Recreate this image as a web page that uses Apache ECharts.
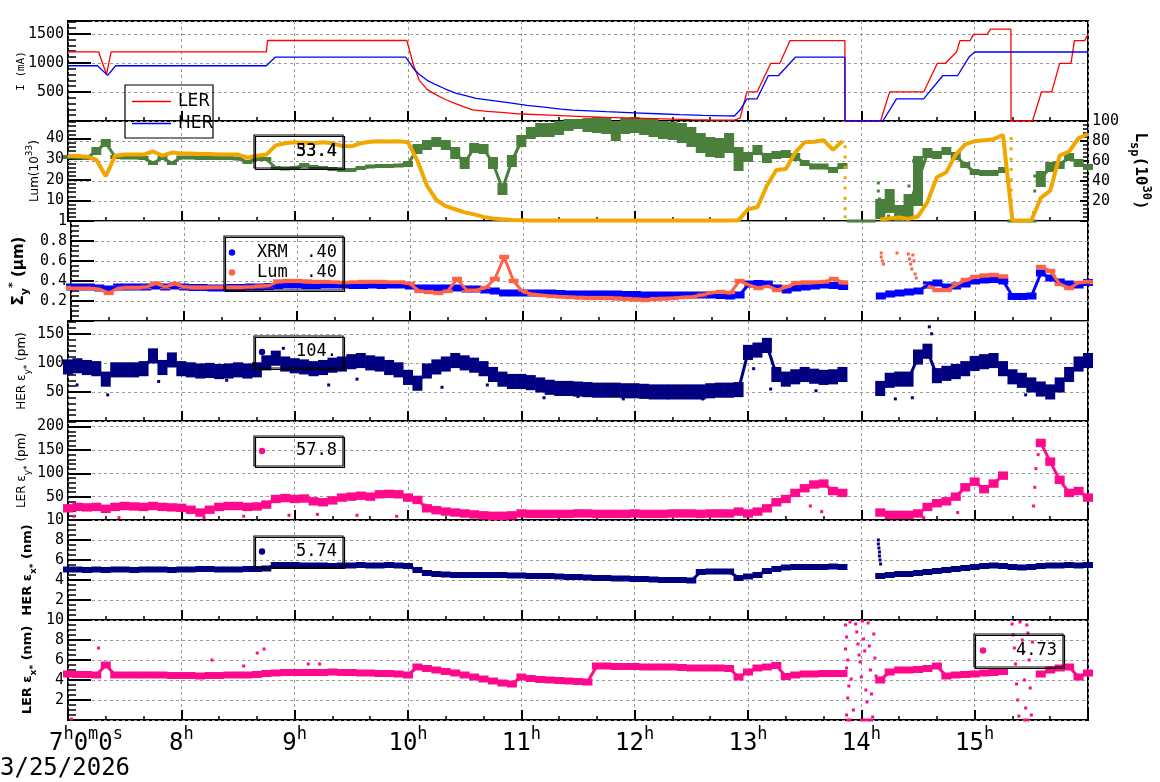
<!DOCTYPE html>
<html><head><meta charset="utf-8">
<script src="https://cdn.jsdelivr.net/npm/echarts@6/dist/echarts.min.js"></script>
<style>html,body{margin:0;padding:0;background:#fff}#c{width:1160px;height:782px}</style>
</head><body><div id="c"></div>
<script>
// ---------- time base: samples every 5 minutes from 07:00 to 16:00 ----------
const T0 = 7, STEP = 5 / 60;
const hourLabels = ['7', '8', '9', '10', '11', '12', '13', '14', '15'];
const dateLabel = '3/25/2026';

// ---------- panel 1: beam currents (mA), [hour, mA] break points ----------
const lerCurrent = [[7.0,1190],[7.27,1190],[7.34,800],[7.38,1190],[8.75,1190],[8.76,1385],[9.99,1385],[10.05,950],[10.1,700],[10.17,540],[10.25,450],[10.33,370],[10.42,300],[10.5,240],[10.57,190],[10.7,165],[10.85,145],[11.0,120],[11.25,100],[11.5,80],[11.75,62],[12.0,48],[12.25,35],[12.5,22],[12.65,17],[12.88,15],[12.93,50],[12.99,500],[13.08,500],[13.2,990],[13.28,990],[13.37,1382],[13.855,1382],[13.856,0],[14.17,0],[14.25,500],[14.55,500],[14.67,990],[14.74,990],[14.84,1187],[14.87,1382],[14.96,1382],[14.99,1490],[15.11,1490],[15.14,1580],[15.32,1580],[15.321,0],[15.51,0],[15.59,500],[15.68,500],[15.75,990],[15.85,990],[15.88,1382],[15.97,1382],[16.0,1490]];
const herCurrent = [[7.0,950],[7.26,950],[7.35,785],[7.42,950],[8.75,950],[8.83,1100],[9.98,1100],[10.05,900],[10.1,800],[10.17,700],[10.25,620],[10.33,550],[10.42,480],[10.5,440],[10.6,390],[10.75,350],[10.9,310],[11.05,270],[11.2,240],[11.35,205],[11.45,188],[11.6,175],[11.75,160],[12.0,140],[12.2,125],[12.4,110],[12.6,98],[12.8,88],[12.88,86],[12.93,188],[12.99,382],[13.08,382],[13.18,782],[13.27,782],[13.42,1100],[13.855,1100],[13.856,0],[14.19,0],[14.31,382],[14.55,382],[14.72,782],[14.85,782],[14.95,1100],[15.0,1187],[16.0,1187]];

// ---------- panel 2: luminosity (1e33, left) and specific luminosity (1e30, right) ----------
const lum = [31.7,31.5,31.2,29.7,21.7,31.7,32.2,32.2,32.2,33.7,31.7,33.2,
32.7,32.7,32.5,32.5,32.2,32.2,32.2,30.7,31.7,32.2,36.7,37.7,
38.2,38.0,37.7,38.2,37.7,36.4,36.2,37.7,38.4,38.7,38.5,38.7,
38.2,29.2,17.2,10.2,7.2,5.7,4.2,3.2,2.0,1.2,0.8,0.5,
0.4,0.3,0.3,0.3,0.3,0.3,0.3,0.3,0.3,0.3,0.3,0.3,
0.3,0.3,0.3,0.3,0.3,0.3,0.3,0.3,0.3,0.3,0.3,0.4,
5.7,6.7,17.2,24.7,25.2,33.2,38.2,38.4,39.2,34.5,38.8,null,
null,null,0.7,1.2,1.7,1.0,2.2,9.2,21.2,23.7,32.2,37.2,
38.7,39.2,39.7,41.7,0.2,0.2,0.2,11.2,14.7,31.7,33.7,40.2,
42.2];
const lsp = [64,63.5,63,70,78,64,63.5,63.5,63,58,63,58,
63.5,63.5,63,63,63,63,62.5,59,62,62,53,52.5,
53,56,54,53,52,51,51,53,54.5,55,55,55.5,
57,72,76,79,76,68,58,73,72,58,32,60,
80,88,91,91,93,96,97,96,96,95,90,95,
96,94,93,91,90,88,84,78,74,73,78,62,
64,71,63,66,67,64,58,54.5,54.5,51,55,0,
0,0,12,20,8,15,40,68,66,70,65,56,
49,48,48,51,0,0,0,42,54,56,64,58,
54];
const lspSpread = [2,2,2,4,4,2,2,2,2,2,2,2,
2,2,2,2,2,2,2,2,2,2,2,2,
2,2,2,2,2,2,2,2,2,2,2,2,
3,5,5,5,5,6,6,5,5,6,6,6,
6,6,7,7,7,6,5,7,8,8,10,8,
8,8,9,9,9,10,10,10,10,10,10,12,
5,5,5,4,4,4,3,3,3,3,3,0.5,
0.5,0.5,10,12,8,12,25,5,4,4,4,3,
3,3,3,3,0.5,0.5,0.5,8,5,4,4,4,
3];
const lumDrops = [[13.857,36],[13.857,31],[13.857,26],[13.857,21],[13.857,16],[13.857,11],[13.857,6],[13.857,2],[15.322,40],[15.322,35],[15.322,30],[15.322,25],[15.322,20],[15.322,15],[15.322,10],[15.322,5]];
const lspSpikes = [[14.15,38],[14.15,30],[14.16,22],[14.17,15],[14.2,8],[14.24,5],[14.27,28],[14.28,20],[14.31,4],[14.35,10],[14.38,3],[14.42,35],[14.43,25],[14.44,15],[14.46,60],[14.47,50],[14.48,40],[15.52,8],[15.53,30],[15.53,45]];
const lumLegendValues = ['53.4', '33.4'];

// ---------- panel 3: vertical beam size (um) ----------
const sigXrm = [.34,.34,.34,.33,.32,.34,.34,.34,.34,.35,.34,.35,
.34,.335,.335,.33,.33,.335,.335,.34,.34,.345,.355,.36,
.36,.355,.355,.36,.36,.36,.355,.355,.36,.355,.36,.36,
.35,.33,.33,.33,.33,.33,.32,.32,.31,.30,.28,.28,
.28,.28,.28,.28,.275,.27,.27,.27,.27,.27,.27,.265,
.265,.26,.26,.26,.26,.26,.26,.26,.26,.255,.25,.26,
.37,.375,.37,.33,.31,.33,.34,.35,.36,.355,.345,null,
null,null,.25,.27,.28,.29,.30,.36,.38,.34,.35,.37,
.40,.41,.415,.40,.245,.245,.25,.48,.43,.39,.37,.36,
.385];
const sigLum = [.33,.33,.33,.32,.28,.33,.335,.335,.34,.375,.34,.37,
.34,.335,.335,.335,.335,.335,.335,.34,.345,.35,.395,.40,
.40,.395,.39,.39,.385,.38,.385,.39,.39,.39,.385,.385,
.37,.30,.29,.28,.30,.42,.31,.31,.33,.42,.64,.40,
.29,.27,.26,.25,.245,.24,.235,.23,.23,.23,.225,.22,
.215,.21,.22,.225,.23,.24,.245,.26,.28,.29,.28,.40,
.36,.33,.35,.31,.34,.38,.385,.385,.39,.42,.385,null,
null,null,null,null,null,null,null,.35,.31,.31,.36,.41,
.44,.455,.46,.445,null,null,null,.54,.50,.37,.33,.38,
.39];
const sigLumSpikes = [[14.17,0.68],[14.17,0.64],[14.18,0.6],[14.19,0.57],[14.31,0.68],[14.41,0.67],[14.42,0.62],[14.43,0.57],[14.44,0.52],[14.45,0.66],[14.46,0.6],[14.47,0.47],[14.48,0.43]];
const sigLegendValues = ['.40', '.40'];

// ---------- panel 4: HER vertical emittance (pm) ----------
const herEy = [93,95,92,90,72,88,88,88,90,112,92,105,
90,88,86,87,85,86,88,86,88,100,108,98,
95,93,90,92,96,98,102,104,100,98,92,88,
75,65,86,93,98,104,100,96,90,80,72,68,
68,66,62,58,56,56,55,54,53,53,53,52,
52,51,50,50,50,50,50,50,52,53,53,54,
118,122,130,80,72,76,80,77,75,76,80,null,
null,null,56,70,72,72,110,120,78,82,85,90,
99,102,104,90,76,70,62,55,50,62,80,98,
104];
const herEyOut = [[7.08,62],[7.35,45],[7.8,68],[8.4,70],[8.9,125],[9.3,62],[9.55,72],[10.3,58],[10.7,62],[11.2,40],[11.5,42],[11.9,38],[12.3,40],[12.6,38],[13.05,90],[13.2,55],[13.6,52],[14.3,38],[14.45,40],[14.6,162],[14.62,150],[15.45,45]];
const herEyLegend = '104.';

// ---------- panel 5: LER vertical emittance (pm) ----------
const lerEy = [25,28,27,28,24,28,30,29,28,30,28,27,
26,22,16,22,28,30,30,28,29,33,45,47,
45,46,40,38,42,48,50,52,50,55,56,55,
48,43,25,21,18,16,14,12,10,9,9,10,
14,13,13,13,13,13,14,14,13,13,13,13,
14,13,13,13,14,14,14,13,14,14,14,18,
14,18,25,38,45,58,68,76,78,62,58,null,
null,null,16,11,11,11,14,28,36,40,50,70,
82,66,78,95,null,null,null,165,125,86,58,62,
48];
const lerEyOut = [[7.05,8],[7.45,5],[8.2,5],[8.55,8],[8.95,10],[9.2,12],[9.55,10],[9.9,8],[10.15,32],[13.55,30],[13.65,18],[14.55,5],[14.85,16],[15.52,30],[15.53,70],[15.54,110],[15.56,140]];
const lerEyLegend = '57.8';

// ---------- panel 6: HER horizontal emittance (nm) ----------
const herEx = [5.05,5.05,5.0,5.05,5.0,5.05,5.05,5.0,5.05,5.05,5.05,5.0,
5.05,5.05,5.1,5.1,5.05,5.05,5.05,5.1,5.1,5.15,5.5,5.5,
5.5,5.45,5.45,5.45,5.4,5.45,5.45,5.5,5.45,5.45,5.5,5.45,
5.4,5.0,4.7,4.6,4.55,4.5,4.5,4.5,4.5,4.5,4.5,4.45,
4.45,4.4,4.4,4.4,4.35,4.3,4.3,4.25,4.2,4.2,4.15,4.15,
4.1,4.1,4.05,4.0,4.0,4.0,3.95,4.8,4.85,4.85,4.85,4.2,
4.35,4.5,4.9,5.1,5.25,5.3,5.3,5.3,5.3,5.35,5.3,null,
null,null,4.4,4.5,4.6,4.6,4.7,4.8,4.9,5.0,5.1,5.2,
5.3,5.4,5.45,5.4,5.3,5.25,5.3,5.4,5.45,5.45,5.5,5.45,
5.5];
const herExOut = [[14.15,8.0],[14.15,7.6],[14.155,7.2],[14.16,6.8],[14.16,6.4],[14.165,6.0],[14.17,5.6]];
const herExLegend = '5.74';

// ---------- panel 7: LER horizontal emittance (nm) ----------
const lerEx = [4.6,4.55,4.55,4.5,5.5,4.5,4.5,4.5,4.5,4.5,4.5,4.45,
4.45,4.45,4.4,4.45,4.45,4.5,4.5,4.5,4.55,4.65,4.7,4.75,
4.75,4.75,4.75,4.75,4.8,4.75,4.75,4.7,4.7,4.65,4.65,4.6,
4.5,5.3,5.15,5.0,4.85,4.7,4.5,4.3,4.1,3.9,3.7,3.6,
4.3,4.15,4.05,4.0,3.95,3.9,3.85,3.8,5.4,5.4,5.35,5.35,
5.35,5.3,5.3,5.3,5.3,5.25,5.2,5.2,5.2,5.2,5.15,4.3,
4.8,5.2,5.3,5.45,4.35,4.5,4.6,4.6,4.65,4.65,4.65,null,
null,null,4.0,4.8,5.0,5.0,5.05,5.15,5.4,4.4,4.5,4.55,
4.6,4.7,4.75,4.85,null,null,null,4.6,5.0,5.2,5.3,4.3,
4.7];
const lerExOut = [[7.03,0.1],[7.27,7.2],[8.27,6.0],[8.55,5.4],[8.67,6.7],[8.73,7.1],[9.12,5.6],[9.22,5.6],
[13.86,9.5],[13.87,8.3],[13.86,7.1],[13.88,6.0],[13.87,5.2],[13.89,3.4],[13.88,2.2],[13.87,0.5],[13.9,9.8],[13.91,4.1],[13.93,1.0],[13.88,0],[13.9,0],
[13.95,9.6],[13.96,8.8],[13.97,7.6],[13.98,6.5],[13.99,5.8],[14.0,4.3],[14.01,9.9],[14.02,8.1],[14.03,6.9],[14.04,3.0],[14.05,1.8],[14.06,9.7],[14.07,7.4],[14.08,5.0],[14.09,2.6],[14.1,0.3],[14.11,8.6],[14.12,6.2],[14.13,4.4],[14.0,0],[14.03,0],[14.06,0],[14.09,0],
[15.33,9.6],[15.34,8.5],[15.35,7.2],[15.36,5.6],[15.37,3.6],[15.38,2.0],[15.39,0.4],[15.4,9.8],[15.42,8.0],[15.43,6.8],[15.44,4.0],[15.45,1.2],[15.46,9.5],[15.47,8.7],[15.48,6.0],[15.49,3.2],[15.5,0.5],[15.51,7.8],[15.44,0],[15.47,0]];
const lerExLegend = '4.73';

// =================== layout / styling ===================
const MONO = 'DejaVu Sans Mono', SANS = 'DejaVu Sans';
const gridTops = [21, 121, 221, 321, 421, 520, 620];
const gridHeights = [100, 100, 100, 100, 99, 100, 100];
const grids = gridTops.map((t, i) => ({left: 68, width: 1020, top: t, height: gridHeights[i], show: true, borderColor: '#000', borderWidth: 2, backgroundColor: 'rgba(0,0,0,0)'}));

const gridLine = {show: true, lineStyle: {color: '#9a9a9a', type: [3, 3], width: 1}};
const xAxes = gridTops.map((t, i) => ({
  type: 'value', gridIndex: i, min: 7, max: 16, interval: 1,
  axisLine: {show: false},
  axisTick: {show: true, inside: true, length: 10, lineStyle: {color: '#000', width: 2}},
  minorTick: {show: true, splitNumber: 3, length: 4, lineStyle: {color: '#000', width: 1.5}},
  splitLine: gridLine,
  axisLabel: i === 6 ? {
    show: true, margin: 6, showMaxLabel: false,
    formatter: v => {
      const k = Math.round(v) - 7;
      if (k < 0 || k >= hourLabels.length) return '';
      if (k === 0) return '{n0|' + hourLabels[0] + '}{s|h}{n|0}{s|m}{n|0}{s|s}';
      return '{n|' + hourLabels[k] + '}{s|h}';
    },
    rich: {
      n: {fontSize: 24, fontFamily: MONO, color: '#000', lineHeight: 30, verticalAlign: 'bottom'},
      n0: {fontSize: 24, fontFamily: MONO, color: '#000', lineHeight: 30, verticalAlign: 'bottom', padding: [0, 0, 0, 36]},
      s: {fontSize: 17, fontFamily: MONO, color: '#000', lineHeight: 18, verticalAlign: 'top'}
    }
  } : {show: false}
}));

function nameRich(size, bold, fam) {
  const w = bold ? 'bold' : 'normal';
  return {
    n: {fontSize: size, fontWeight: w, fontFamily: fam, color: '#000', lineHeight: size + 8, verticalAlign: 'middle'},
    sub: {fontSize: Math.round(size * 0.72), fontWeight: w, fontFamily: fam, color: '#000', lineHeight: size * 0.6, verticalAlign: 'bottom'},
    sup: {fontSize: Math.round(size * 0.72), fontWeight: w, fontFamily: fam, color: '#000', lineHeight: size * 0.6, verticalAlign: 'top'}
  };
}
function yAxis(grid, min, max, interval, minor, name, gap, size, bold, fam, opts) {
  opts = opts || {};
  return Object.assign({
    type: 'value', gridIndex: grid, min, max, interval,
    position: 'left',
    axisLine: {show: false},
    axisTick: {show: true, inside: true, length: 23, lineStyle: {color: '#000', width: 2}},
    minorTick: {show: true, splitNumber: minor, length: 8, lineStyle: {color: '#000', width: 1.5}},
    splitLine: gridLine,
    axisLabel: {show: true, margin: 4, fontSize: 15, fontFamily: MONO, color: '#000', showMinLabel: false, showMaxLabel: opts.showMax !== false, formatter: v => String(v)},
    name, nameLocation: 'middle', nameGap: gap, nameRotate: 90, nameMoveOverlap: false,
    nameTextStyle: {rich: nameRich(size, bold, fam)}
  }, opts.extra || {});
}
const yAxes = [
  yAxis(0, 0, 1720, 500, 5, '{n|I (mA)}', 37, 11, false, MONO, {showMax: false}),
  yAxis(1, 0, 48.5, 10, 5, '{n|Lum(10}{sup|33}{n|)}', 23, 12, false, SANS, {showMax: false, extra: {splitLine: {show: false}}}),
  yAxis(1, 0, 100, 20, 5, '{n|L}{sub|sp}{n|(10}{sup|30}{n|)}', 40, 16, true, MONO, {extra: {
    position: 'right', nameRotate: -90,
    axisTick: {show: true, inside: true, length: 8, lineStyle: {color: '#000', width: 2}},
    minorTick: {show: true, splitNumber: 5, length: 5, lineStyle: {color: '#000', width: 1.5}}
  }}),
  yAxis(2, 0, 1, 0.2, 4, '{n|Σ}{sub|y}{sup|*}{n| (μm)}', 40, 15, true, SANS),
  yAxis(3, 0, 172, 50, 5, '{n|HER ε}{sub|y*}{n| (pm)}', 36, 12, false, SANS, {showMax: false}),
  yAxis(4, 0, 212, 50, 5, '{n|LER ε}{sub|y*}{n| (pm)}', 36, 12, false, SANS, {showMax: false}),
  yAxis(5, 0, 10, 2, 4, '{n|HER ε}{sub|x*}{n| (nm)}', 30, 13, true, SANS),
  yAxis(6, 0, 10, 2, 4, '{n|LER ε}{sub|x*}{n| (nm)}', 30, 13, true, SANS)
];

// colours
const C = {ler: '#ff0000', her: '#0000ff', lum: '#f0a800', lsp: '#4a7f3c', xrm: '#0000ff', lumS: '#ff6347', navy: '#000080', pink: '#ff0a8c'};

function toPairs(arr, spread) {
  const out = [];
  arr.forEach((v, i) => {
    if (v === null) return;
    const s = Array.isArray(spread) ? spread[i] : spread;
    out.push([T0 + i * STEP, v, s]);
  });
  return out;
}
// a noisy measurement band: a connecting trace plus one block per 5-minute sample
// (samples sitting on the zero floor are not joined into the trace)
function band(name, arr, color, yi, spread) {
  const ax = yAxes[yi];
  const pxPerUnit = gridHeights[ax.gridIndex] / (ax.max - ax.min);
  return [
    {type: 'line', name: name + ' trace', xAxisIndex: ax.gridIndex, yAxisIndex: yi,
      data: arr.map((v, i) => [T0 + i * STEP, v === 0 ? null : v]), showSymbol: false, connectNulls: false,
      lineStyle: {color, width: 3}, itemStyle: {color}, silent: true},
    {type: 'scatter', name, xAxisIndex: ax.gridIndex, yAxisIndex: yi, data: toPairs(arr, spread),
      symbol: 'rect', symbolSize: val => [10, Math.max(3, 2 * val[2] * pxPerUnit)],
      itemStyle: {color, opacity: 1}, silent: true}
  ];
}
function dots(name, pts, color, yi) {
  return {type: 'scatter', name, xAxisIndex: yAxes[yi].gridIndex, yAxisIndex: yi, data: pts,
    symbol: 'rect', symbolSize: 3, itemStyle: {color, opacity: 1}, silent: true};
}
function line(name, pts, color, yi, width) {
  return {type: 'line', name, xAxisIndex: yAxes[yi].gridIndex, yAxisIndex: yi, data: pts,
    showSymbol: false, connectNulls: false, lineStyle: {color, width}, itemStyle: {color}, silent: true};
}

const series = [
  line('LER', lerCurrent, C.ler, 0, 1.3),
  line('HER', herCurrent, C.her, 0, 1.3),
  ...band('Lsp', lsp, C.lsp, 2, lspSpread),
  dots('Lsp spikes', lspSpikes, C.lsp, 2),
  line('Lum', lum.map((v, i) => [T0 + i * STEP, v]), C.lum, 1, 4),
  dots('Lum drop', lumDrops, C.lum, 1),
  ...band('XRM', sigXrm, C.xrm, 3, 0.035),
  ...band('Lum sigma', sigLum, C.lumS, 3, 0.022),
  dots('Lum sigma spikes', sigLumSpikes, C.lumS, 3),
  ...band('HER ey', herEy, C.navy, 4, 13),
  dots('HER ey out', herEyOut, C.navy, 4),
  ...band('LER ey', lerEy, C.pink, 5, 9),
  dots('LER ey out', lerEyOut, C.pink, 5),
  ...band('HER ex', herEx, C.navy, 6, 0.3),
  dots('HER ex out', herExOut, C.navy, 6),
  ...band('LER ex', lerEx, C.pink, 7, 0.35),
  dots('LER ex out', lerExOut, C.pink, 7)
];

// ---------- legend boxes (graphics) ----------
const boxStyle = {stroke: '#000', lineWidth: 1.2, fill: 'rgba(0,0,0,0)', shadowColor: '#000', shadowOffsetX: 1.5, shadowOffsetY: 1.5, shadowBlur: 0};
function box(x, y, w, h) { return {type: 'rect', shape: {x, y, width: w, height: h}, style: Object.assign({}, boxStyle), z: 100}; }
function txt(x, y, text, align, font, size) { return {type: 'text', x, y, style: {text, fill: '#000', font: size + 'px "' + font + '"', textAlign: align, textVerticalAlign: 'middle'}, z: 101}; }
function dot(x, y, color) { return {type: 'circle', shape: {cx: x, cy: y, r: 3.2}, style: {fill: color}, z: 101}; }
function seg(x1, x2, y, color) { return {type: 'line', shape: {x1, y1: y, x2, y2: y}, style: {stroke: color, lineWidth: 1.3}, z: 101}; }

const graphics = [
  {type: 'rect', shape: {x: 125, y: 85, width: 88, height: 53}, style: {stroke: '#000', lineWidth: 1.2, fill: 'rgba(0,0,0,0)'}, z: 100},
  seg(132, 171, 101.5, C.ler), txt(178, 101.5, 'LER', 'left', SANS, 17),
  seg(132, 171, 123.5, C.her), txt(178, 123.5, 'HER', 'left', SANS, 17),
  box(254, 135, 89, 33), txt(337, 151.5, lumLegendValues[0], 'right', MONO, 17), txt(337, 151.5, lumLegendValues[1], 'right', MONO, 17),
  box(224, 236, 119, 54), dot(232, 252.5, C.xrm), txt(257, 252.5, 'XRM', 'left', MONO, 17), txt(337, 252.5, sigLegendValues[0], 'right', MONO, 17),
  dot(232, 272.5, C.lumS), txt(257, 272.5, 'Lum', 'left', MONO, 17), txt(337, 272.5, sigLegendValues[1], 'right', MONO, 17),
  box(254, 336, 89, 32), dot(262, 352, C.navy), txt(337, 352, herEyLegend, 'right', MONO, 17),
  box(254, 436, 89, 30), dot(262, 451, C.pink), txt(337, 451, lerEyLegend, 'right', MONO, 17),
  box(254, 536, 89, 31), dot(262, 551.5, C.navy), txt(337, 551.5, herExLegend, 'right', MONO, 17),
  box(974, 634, 89, 33), dot(983, 650.5, C.pink), txt(1057, 650.5, lerExLegend, 'right', MONO, 17),
  txt(0, 769, dateLabel, 'left', MONO, 24)
];

const chart = echarts.init(document.getElementById('c'));
chart.setOption({
  animation: false,
  backgroundColor: '#fff',
  grid: grids,
  xAxis: xAxes,
  yAxis: yAxes,
  series,
  graphic: graphics
});
</script>
</body></html>
